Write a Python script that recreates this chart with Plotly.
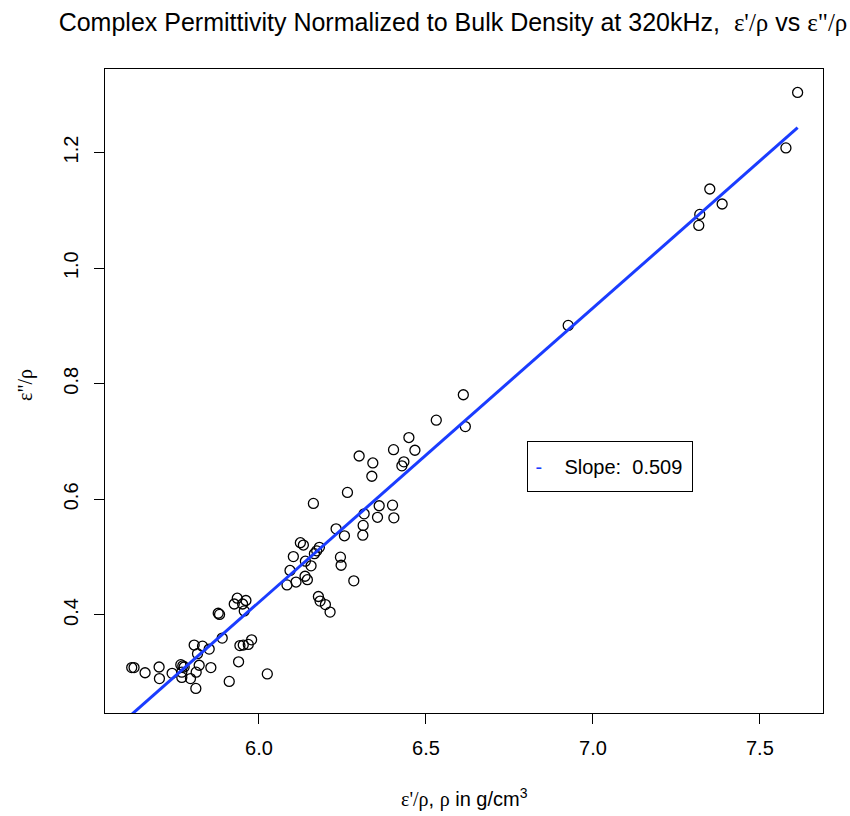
import plotly.graph_objects as go

# data (eps'/rho vs eps''/rho)
eps_real_rho = [
    7.613, 7.578, 7.350, 7.387, 7.320, 7.317, 6.926, 6.612, 6.531, 6.618,
    6.449, 6.403, 6.467, 6.434, 6.428, 6.300, 6.341, 6.338, 6.265, 6.163,
    6.360, 6.400, 6.315, 6.355, 6.404, 6.312, 6.311, 6.231, 6.256, 6.124,
    6.133, 6.181, 6.173, 6.166, 6.103, 6.244, 6.246, 6.139, 6.156, 6.093,
    6.138, 6.145, 6.111, 6.084, 6.284, 6.178, 6.183, 6.199, 6.213, 5.935,
    5.961, 5.926, 5.951, 5.956, 5.878, 5.882, 5.890, 5.978, 5.968, 5.953,
    5.943, 5.806, 5.831, 5.851, 5.816, 5.619, 5.626, 5.659, 5.701, 5.702,
    5.740, 5.766, 5.772, 5.776, 5.769, 5.769, 5.795, 5.812, 5.821, 5.811,
    5.856, 5.911, 5.939, 6.025,
]
eps_imag_rho = [
    1.304, 1.208, 1.137, 1.111, 1.093, 1.074, 0.901, 0.781, 0.737, 0.726,
    0.707, 0.686, 0.685, 0.665, 0.658, 0.675, 0.663, 0.640, 0.612, 0.593,
    0.589, 0.590, 0.575, 0.569, 0.568, 0.555, 0.538, 0.549, 0.537, 0.525,
    0.521, 0.517, 0.511, 0.506, 0.501, 0.500, 0.486, 0.493, 0.485, 0.477,
    0.467, 0.461, 0.457, 0.452, 0.459, 0.432, 0.424, 0.418, 0.405, 0.429,
    0.425, 0.419, 0.419, 0.407, 0.403, 0.401, 0.360, 0.357, 0.349, 0.348,
    0.347, 0.348, 0.346, 0.341, 0.333, 0.309, 0.309, 0.300, 0.310, 0.290,
    0.299, 0.314, 0.312, 0.310, 0.301, 0.292, 0.290, 0.301, 0.313, 0.273,
    0.309, 0.285, 0.319, 0.298,
]
slope = 0.509
intercept = -2.632

x_ticks = [6.0, 6.5, 7.0, 7.5]
y_ticks = [0.4, 0.6, 0.8, 1.0, 1.2]

SANS = "Liberation Sans, Arial, Helvetica, sans-serif"
SERIF = "Liberation Serif, DejaVu Serif, serif"


def g(s):
    return f"<span style='font-family:{SERIF}'>{s}</span>"


xmin, xmax = min(eps_real_rho), max(eps_real_rho)
line_x = [xmin, xmax]
line_y = [intercept + slope * v for v in line_x]

fig = go.Figure()
fig.add_trace(go.Scatter(
    x=eps_real_rho, y=eps_imag_rho, mode="markers",
    marker=dict(symbol="circle-open", size=10, color="black", line=dict(width=1.3, color="black")),
    showlegend=False, cliponaxis=True,
))
fig.add_trace(go.Scatter(
    x=line_x, y=line_y, mode="lines",
    line=dict(color="#1a3cff", width=3), showlegend=False,
))

axis_common = dict(
    showgrid=False, zeroline=False, showline=True, mirror=True,
    linecolor="black", linewidth=1, ticks="outside", ticklen=10,
    tickcolor="black", tickwidth=1, tickfont=dict(family=SANS, size=20, color="black"),
)
fig.update_xaxes(range=[5.539, 7.689], tickvals=x_ticks,
                 ticktext=[f"{v:.1f}" for v in x_ticks], ticklabelstandoff=7, **axis_common)
fig.update_yaxes(range=[0.2304, 1.3446], tickvals=y_ticks,
                 ticktext=[f"{v:.1f}" for v in y_ticks], tickangle=-90, ticklabelstandoff=8,
                 **axis_common)

fig.update_layout(
    width=850, height=816,
    margin=dict(l=105, r=27, t=69, b=103),
    plot_bgcolor="white", paper_bgcolor="white",
    font=dict(family=SANS, size=20, color="black"),
    title=dict(
        text="Complex Permittivity Normalized to Bulk Density at 320kHz,&nbsp;&nbsp;"
             + g("ε'/ρ") + " vs " + g("ε\"/ρ"),
        x=453 / 850, xref="container", xanchor="center",
        y=1 - 22 / 816, yref="container", yanchor="middle",
        font=dict(family=SANS, size=25, color="black"),
    ),
    annotations=[
        dict(text=g("ε'/ρ") + ", " + g("ρ") + " in g/cm<sup>3</sup>",
             xref="paper", yref="paper", x=0.5, y=-(798 - 713) / 644,
             xanchor="center", yanchor="middle", showarrow=False,
             font=dict(family=SANS, size=20, color="black")),
        dict(text=g("ε\"/ρ"), xref="paper", yref="paper",
             x=(25 - 105) / 718, y=(713 - 385) / 644, textangle=-90,
             xanchor="center", yanchor="middle", showarrow=False,
             font=dict(family=SANS, size=20, color="black")),
        dict(text="&nbsp;<span style='color:#1a3cff'>-</span>&nbsp;&nbsp;&nbsp;&nbsp;Slope:&nbsp;&nbsp;0.509",
             xref="paper", yref="paper",
             x=(609.5 - 105) / 718, y=(713 - 466.5) / 644,
             xanchor="center", yanchor="middle", showarrow=False,
             width=160, height=45, align="left",
             bordercolor="black", borderwidth=1, borderpad=2, bgcolor="white",
             font=dict(family=SANS, size=20, color="black")),
    ],
)

fig.write_html("out.html")
